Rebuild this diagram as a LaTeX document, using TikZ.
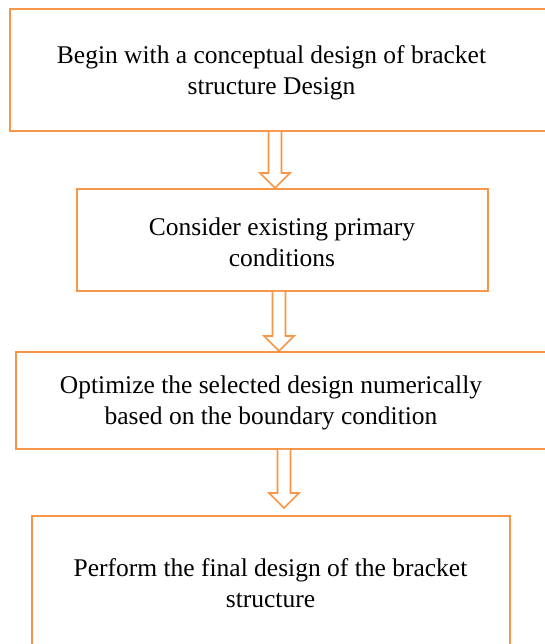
\documentclass[tikz,border=0pt]{standalone}
\usepackage{fontspec}
\setmainfont{Liberation Serif}
\usetikzlibrary{calc}
\definecolor{boxorange}{RGB}{247,150,70}
\tikzset{
	box/.style={draw=boxorange, line width=1.8pt, rectangle, inner sep=0pt},
	txt/.style={align=center, font=\fontsize{25.5}{31}\selectfont, inner sep=0pt},
	arrowline/.style={draw=boxorange, line width=1.6pt, fill=white, line join=miter},
}
% block arrow from #1 (top) down to tip #2
\newcommand{\blockarrow}[2]{
	\draw[arrowline] ($(#1)+(-6.5,0)$) -- ($(#2)+(-6.5,-15)$) -- ($(#2)+(-15,-15)$) -- (#2)
		-- ($(#2)+(15,-15)$) -- ($(#2)+(6.5,-15)$) -- ($(#1)+(6.5,0)$);
}
\begin{document}
\begin{tikzpicture}[x=1pt, y=-1pt]
			\useasboundingbox (0,0) rectangle (545,644);
			\clip (0,0) rectangle (545,644);
			% boxes
			\node[box, minimum width=540pt, minimum height=122pt] (b1) at (280,70) {};
			\node[box, minimum width=411pt, minimum height=102pt] (b2) at (282.5,240) {};
			\node[box, minimum width=534pt, minimum height=97pt] (b3) at (283,400.5) {};
			\node[box, minimum width=478pt, minimum height=140pt] (b4) at (271,586) {};
			% texts
			\node[txt] (t1) at (271.5,73) {Begin with a conceptual design of bracket\\structure Design};
			\node[txt] (t2) at (282,242.5) {Consider existing primary\\conditions};
			\node[txt] (t3) at (271,403) {Optimize the selected design numerically\\based on the boundary condition};
			\node[txt] (t4) at (270.5,583.5) {Perform the final design of the bracket\\structure};
			% arrows
			\coordinate (a1) at (275,188);
			\coordinate (a2) at (279,351);
			\coordinate (a3) at (284,508);
			\blockarrow{b1.south -| a1}{a1}
			\blockarrow{b2.south -| a2}{a2}
			\blockarrow{b3.south -| a3}{a3}
		\end{tikzpicture}
\end{document}
